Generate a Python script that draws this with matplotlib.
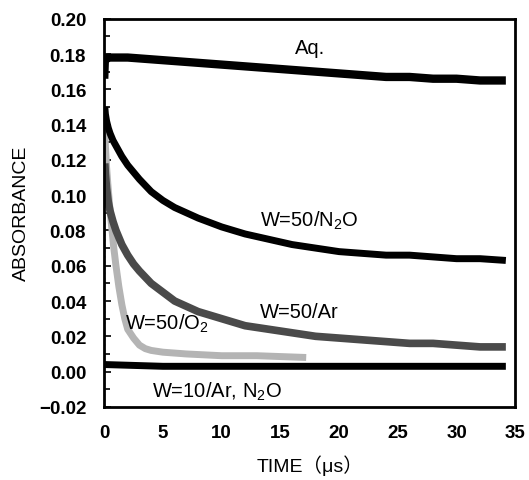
import matplotlib
matplotlib.use('Agg')
import matplotlib.pyplot as plt
from matplotlib.ticker import MultipleLocator

plt.rcParams['font.family'] = ['Liberation Sans', 'Noto Sans CJK JP', 'DejaVu Sans']
plt.rcParams['mathtext.default'] = 'regular'

# traces (time in us, absorbance)
t_aq = [0.0, 0.05, 0.3, 1, 2, 4, 6, 8, 10, 12, 14, 16, 18, 20, 22, 24, 26, 28, 30, 32, 34.2]
abs_aq = [0.166, 0.176, 0.178, 0.178, 0.178, 0.177, 0.176, 0.175, 0.174, 0.173, 0.172,
          0.171, 0.170, 0.169, 0.168, 0.167, 0.167, 0.166, 0.166, 0.165, 0.165]

t_n2o = [0.05, 0.1, 0.2, 0.35, 0.5, 0.75, 1, 1.5, 2, 2.5, 3, 4, 5, 6, 8, 10, 12, 14, 16, 18,
         20, 22, 24, 26, 28, 30, 32, 34.2]
abs_n2o = [0.150, 0.146, 0.142, 0.138, 0.135, 0.131, 0.128, 0.122, 0.117, 0.113, 0.109, 0.102,
           0.097, 0.093, 0.087, 0.082, 0.078, 0.075, 0.072, 0.070, 0.068, 0.067, 0.066, 0.066,
           0.065, 0.064, 0.064, 0.063]

t_ar = [0.05, 0.1, 0.2, 0.35, 0.5, 0.75, 1, 1.5, 2, 2.5, 3, 4, 5, 6, 8, 10, 12, 14, 16, 18,
        20, 22, 24, 26, 28, 30, 32, 34.2]
abs_ar = [0.118, 0.112, 0.104, 0.096, 0.091, 0.085, 0.080, 0.072, 0.066, 0.061, 0.057, 0.050,
          0.045, 0.040, 0.034, 0.030, 0.026, 0.024, 0.022, 0.020, 0.019, 0.018, 0.017, 0.016,
          0.016, 0.015, 0.014, 0.014]

t_o2 = [0.0, 0.05, 0.1, 0.2, 0.3, 0.4, 0.5, 0.65, 0.8, 1, 1.25, 1.5, 1.75, 2, 2.5, 3, 3.5, 4,
        5, 7, 10, 13, 17.2]
abs_o2 = [-0.02, 0.140, 0.128, 0.116, 0.107, 0.099, 0.091, 0.081, 0.071, 0.060, 0.048, 0.038,
          0.030, 0.024, 0.019, 0.015, 0.013, 0.012, 0.011, 0.010, 0.009, 0.009, 0.008]

t_w10 = [0.05, 5, 10, 15, 20, 25, 30, 34.2]
abs_w10 = [0.004, 0.003, 0.003, 0.003, 0.003, 0.003, 0.003, 0.003]

fig = plt.figure(figsize=(5.29, 4.81), dpi=100)
ax = fig.add_axes([0.197, 0.152, 0.777, 0.807])

kw = dict(solid_joinstyle='round', solid_capstyle='butt')
ax.plot(t_o2[:2], abs_o2[:2], color='#9a9a9a', lw=1.5, ls=':')
ax.plot(t_o2[1:], abs_o2[1:], color='#b4b4b4', lw=5, **kw)
ax.plot(t_w10, abs_w10, color='black', lw=5, **kw)
ax.plot(t_ar, abs_ar, color='#4a4a4a', lw=5.5, **kw)
ax.plot(t_n2o, abs_n2o, color='black', lw=5, **kw)
ax.plot(t_aq, abs_aq, color='black', lw=6, **kw)

ax.text(17.5, 0.1836, 'Aq.', fontsize=14.5, ha='center', va='center')
ax.text(13.3, 0.086, 'W=50/N$_2$O', fontsize=14.5, ha='left', va='center')
ax.text(13.3, 0.034, 'W=50/Ar', fontsize=14.5, ha='left', va='center')
ax.text(1.8, 0.0276, 'W=50/O$_2$', fontsize=14.5, ha='left', va='center')
ax.text(4.1, -0.011, 'W=10/Ar, N$_2$O', fontsize=14.5, ha='left', va='center')

ax.set_xlim(0, 35)
ax.set_ylim(-0.02, 0.20)
ax.set_xticks([0, 5, 10, 15, 20, 25, 30, 35])
ax.yaxis.set_major_locator(MultipleLocator(0.02))
ax.yaxis.set_minor_locator(MultipleLocator(0.01))
ax.yaxis.set_major_formatter(lambda v, p: ('%.2f' % v).replace('-', '\u2212'))
ax.tick_params(axis='y', direction='in', length=5, width=1.2, pad=13, labelsize=13.5)
ax.tick_params(axis='y', which='minor', direction='in', length=4, width=1.2)
ax.tick_params(axis='x', direction='in', length=0, pad=12, labelsize=13.5)
for lab in ax.get_xticklabels() + ax.get_yticklabels():
    lab.set_fontweight('bold')
for s in ax.spines.values():
    s.set_linewidth(2)

ax.set_xlabel('TIME（μs）', fontsize=14, labelpad=10)
ax.set_ylabel('ABSORBANCE', fontsize=14, labelpad=6)

fig.savefig('out.png', dpi=100)
